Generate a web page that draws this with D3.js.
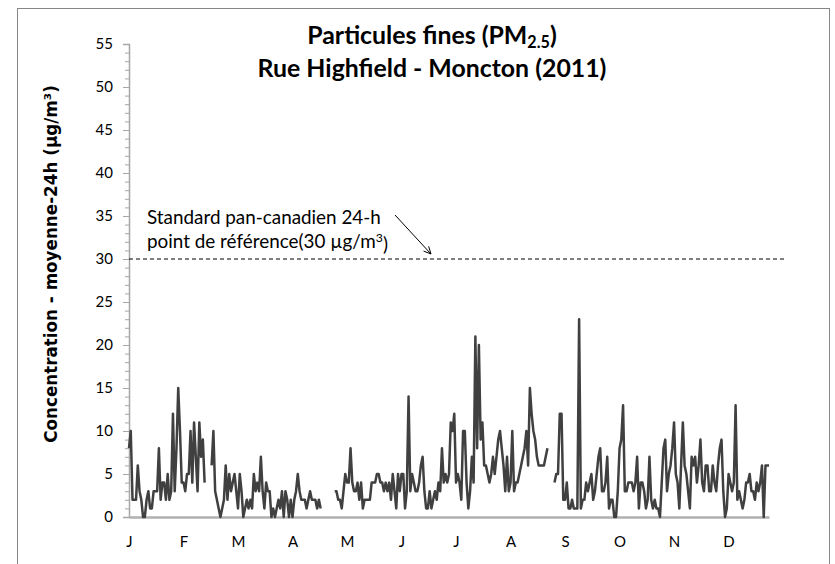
<!DOCTYPE html>
<html>
<head>
<meta charset="utf-8">
<script src="https://cdnjs.cloudflare.com/ajax/libs/d3/7.8.5/d3.min.js"></script>
<style>
  html, body { margin: 0; padding: 0; background: #fff; }
  svg { display: block; }
</style>
</head>
<body>
<svg id="chart" width="835" height="564"></svg>
<script>
// ---- DATA ----
const monthLabels = ["J","F","M","A","M","J","J","A","S","O","N","D"];
const yTickValues = [0,5,10,15,20,25,30,35,40,45,50,55];
const referenceValue = 30;
const jan = [8,10,2,2,2,6,3,2,0,0,2,3,1,1,3,3,3,8,2,4,4,2,5,2,3,12,3,8,15,10,4];
const feb = [4,3,5,5,10,4,11,7,3,11,7,9,4,null,null,null,6,10,3,2,1,0,1,2,6,2,5,3];
const mar = [4,5,3,1,5,3,0,1,2,1,2,1,5,3,4,3,7,3,1,4,3,3,0,1,0,1,2,1,3,0,3];
const apr = [2,0,2,0,2,3,5,3,2,2,2,1,2,3,2,2,2,1,2,1,null,null,null,null,null,null,null,3,3,2];
const may = [2,1,3,5,4,4,8,4,3,3,4,2,4,1,2,2,2,2,4,4,4,5,5,4,4,3,4,3,4,2,5];
const jun = [3,1,5,3,5,5,1,3,14,3,5,4,3,3,4,6,7,3,1,1,3,1,2,3,2,4,3,8,4,5];
const jul = [4,5,11,10,12,4,5,4,2,10,10,4,1,3,7,4,21,8,20,9,11,6,6,5,4,5,7,5,7,9,10];
const aug = [8,6,3,7,3,4,10,3,4,4,5,6,7,8,10,6,15,12,10,9,7,6,6,6,6,7,8,null,null,null,4];
const sep = [5,5,12,12,2,2,4,1,1,2,1,1,1,23,1,2,2,4,3,4,5,2,3,5,7,8,3,3,4,7];
const oct = [1,2,2,0,0,3,8,9,13,3,3,4,4,4,3,4,7,1,4,4,3,1,2,7,2,1,2,1,1,0,4];
const nov = [8,9,3,5,6,8,11,5,4,1,6,11,6,5,3,1,7,6,7,4,6,9,4,3,6,6,3,3,6,4];
const dec = [3,6,8,9,3,0,1,5,4,3,4,13,2,3,2,1,2,4,4,5,3,3,2,4,3,4,6,0,6,6,6];

const values = [].concat(jan, feb, mar, apr, may, jun, jul, aug, sep, oct, nov, dec);
const monthStartIdx = monthLabels.map((m, k) => k * 31);

// ---- LAYOUT ----
const svg = d3.select("#chart");
const plot = { left: 129, right: 769, top: 44, bottom: 517 };
const FONT = "Lato, 'Open Sans', sans-serif";

// outer border
svg.append("rect")
  .attr("x", 17.5).attr("y", 8.5)
  .attr("width", 812).attr("height", 570)
  .attr("fill", "none").attr("stroke", "#868686").attr("stroke-width", 1);

const x = d3.scalePoint().domain(d3.range(values.length)).range([plot.left, plot.right]);
const y = d3.scaleLinear().domain([0, 55]).range([plot.bottom, plot.top]);

// y axis minor ticks
const yMinor = svg.append("g").attr("transform", `translate(${plot.left},0)`)
  .call(d3.axisLeft(y).tickValues(d3.range(0, 56, 1)).tickSize(4).tickFormat(""));
yMinor.select(".domain").remove();
yMinor.selectAll(".tick line").attr("stroke", "#a6a6a6");

// y axis major
const yAxis = svg.append("g").attr("transform", `translate(${plot.left},0)`)
  .call(d3.axisLeft(y).tickValues(yTickValues).tickSize(6).tickPadding(10));
yAxis.select(".domain").attr("stroke", "#a6a6a6").attr("stroke-width", 1.5);
yAxis.selectAll(".tick line").attr("stroke", "#a6a6a6");
yAxis.selectAll(".tick text").attr("font-family", FONT).attr("font-size", 15).attr("fill", "#000");

// x axis
const xAxis = svg.append("g").attr("transform", `translate(0,${plot.bottom})`)
  .call(d3.axisBottom(x).tickValues(monthStartIdx).tickSize(0).tickPadding(19)
    .tickFormat(i => monthLabels[i / 31]));
xAxis.select(".domain").attr("stroke", "#b0b0b0").attr("stroke-width", 2.5);
xAxis.selectAll(".tick text").attr("font-family", FONT).attr("font-size", 15).attr("fill", "#000");

// reference dashed line
svg.append("line")
  .attr("x1", plot.left).attr("x2", 787)
  .attr("y1", y(referenceValue)).attr("y2", y(referenceValue))
  .attr("stroke", "#000").attr("stroke-width", 1.2).attr("stroke-dasharray", "4,3");

// data line
const line = d3.line().defined(d => d != null).x((d, i) => x(i)).y(d => y(d));
svg.append("path")
  .datum(values)
  .attr("d", line)
  .attr("fill", "none")
  .attr("stroke", "#404040")
  .attr("stroke-width", 2.5)
  .attr("stroke-linejoin", "round");

function fit(sel, width) {
  const fs = parseFloat(sel.attr("font-size"));
  const w = sel.node().getComputedTextLength();
  sel.attr("font-size", fs * width / w);
}

// title
const t2 = svg.append("text").attr("x", 432).attr("y", 77)
  .attr("text-anchor", "middle").attr("font-family", FONT).attr("font-weight", "bold").attr("font-size", 22)
  .text("Rue Highfield - Moncton (2011)");
fit(t2, 349);
const t1 = svg.append("text").attr("x", 432).attr("y", 44)
  .attr("text-anchor", "middle").attr("font-family", FONT).attr("font-weight", "bold")
  .attr("font-size", t2.attr("font-size"));
t1.append("tspan").text("Particules fines (PM");
t1.append("tspan").attr("font-size", "0.65em").attr("dy", "0.22em").text("2.5");
t1.append("tspan").attr("dy", "-0.14em").text(")");

// y axis title
const yt = svg.append("text")
  .attr("transform", `translate(57,264) rotate(-90)`)
  .attr("text-anchor", "middle").attr("font-family", "'DejaVu Sans', Verdana, sans-serif")
  .attr("font-weight", "bold").attr("font-size", 16)
  .text("Concentration - moyenne-24h (µg/m³)");
fit(yt, 358);

// annotation
const a1 = svg.append("text").attr("x", 147).attr("y", 224)
  .attr("font-family", FONT).attr("font-size", 16).text("Standard pan-canadien 24-h");
fit(a1, 234);
const a2 = svg.append("text").attr("x", 147).attr("y", 248)
  .attr("font-family", FONT).attr("font-size", a1.attr("font-size"));
a2.append("tspan").text("point de référence(30 µg/m");
a2.append("tspan").attr("font-size", "0.65em").attr("dy", "-0.5em").text("3");
a2.append("tspan").attr("dy", "0.5em").text(")");

// arrow
const ax1 = 395, ay1 = 215, ax2 = 431, ay2 = 254;
svg.append("line").attr("x1", ax1).attr("y1", ay1).attr("x2", ax2).attr("y2", ay2)
  .attr("stroke", "#000").attr("stroke-width", 1);
const ang = Math.atan2(ay2 - ay1, ax2 - ax1);
const hl = 8, ha = 0.45;
svg.append("path")
  .attr("d", `M${ax2 - hl * Math.cos(ang - ha)},${ay2 - hl * Math.sin(ang - ha)} L${ax2},${ay2} L${ax2 - hl * Math.cos(ang + ha)},${ay2 - hl * Math.sin(ang + ha)}`)
  .attr("fill", "none").attr("stroke", "#000").attr("stroke-width", 1);
</script>
</body>
</html>
